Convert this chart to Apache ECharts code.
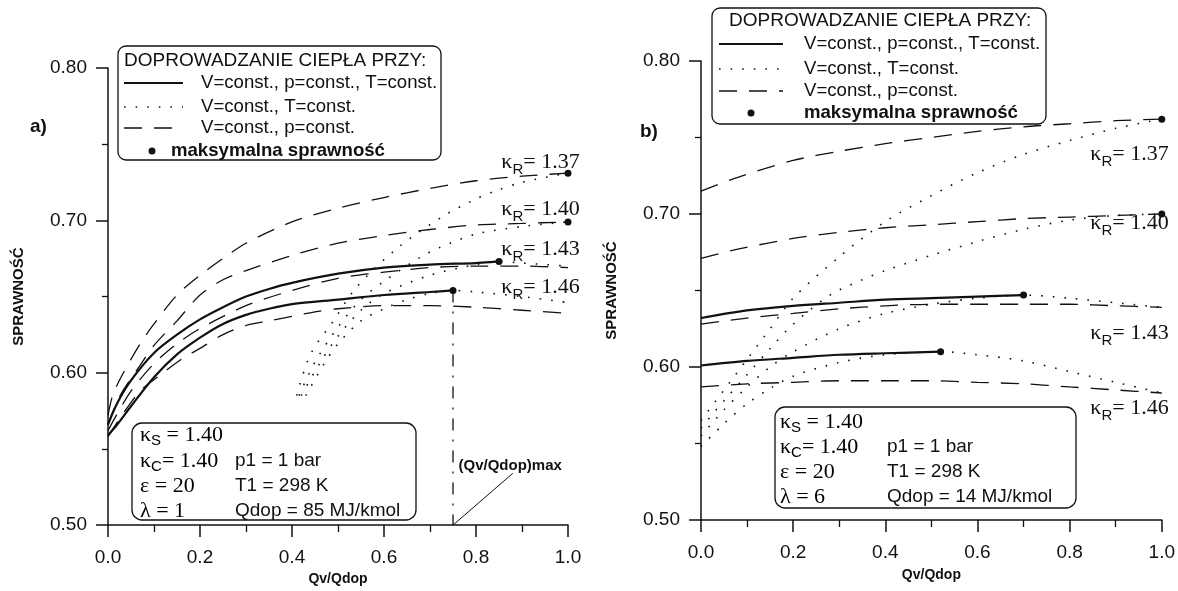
<!DOCTYPE html>
<html><head><meta charset="utf-8">
<script src="https://cdn.jsdelivr.net/npm/echarts@6/dist/echarts.min.js"></script>
<style>html,body{margin:0;padding:0;background:#fff}#c{width:1178px;height:591px}</style>
</head><body><div id="c"></div>
<script>
// ---------- tick labels ----------
const xTickLabels = ['0.0','0.2','0.4','0.6','0.8','1.0'];
const yTickLabels = ['0.50','0.60','0.70','0.80'];
const kappaR = ['1.37','1.40','1.43','1.46'];

// ---------- panel a (lambda = 1) ----------
const aDashed137 = [[0,0.572],[0.01,0.585],[0.03,0.598],[0.07,0.619],[0.1,0.632],[0.15,0.651],[0.2,0.664],[0.25,0.675],[0.3,0.685],[0.4,0.699],[0.5,0.708],[0.6,0.715],[0.7,0.721],[0.8,0.726],[0.9,0.729],[1.0,0.731]];
const aDashed140 = [[0,0.566],[0.01,0.574],[0.03,0.587],[0.07,0.605],[0.1,0.618],[0.15,0.634],[0.2,0.651],[0.25,0.661],[0.3,0.667],[0.4,0.677],[0.5,0.685],[0.6,0.690],[0.7,0.694],[0.8,0.697],[0.9,0.698],[1.0,0.699]];
const aDashed143 = [[0,0.562],[0.02,0.573],[0.05,0.588],[0.1,0.606],[0.15,0.619],[0.2,0.629],[0.3,0.644],[0.4,0.654],[0.5,0.662],[0.6,0.666],[0.7,0.669],[0.8,0.670],[0.9,0.670],[1.0,0.669]];
const aDashed146 = [[0,0.558],[0.03,0.572],[0.07,0.588],[0.12,0.600],[0.16,0.609],[0.2,0.616],[0.25,0.625],[0.3,0.631],[0.35,0.634],[0.4,0.637],[0.45,0.640],[0.5,0.642],[0.6,0.644],[0.7,0.644],[0.8,0.643],[0.9,0.641],[1.0,0.639]];
const aSolid143 = [[0,0.566],[0.02,0.580],[0.05,0.595],[0.1,0.613],[0.15,0.625],[0.2,0.635],[0.25,0.643],[0.3,0.650],[0.35,0.655],[0.4,0.659],[0.5,0.665],[0.6,0.669],[0.7,0.671],[0.8,0.672],[0.85,0.673]];
const aSolid146 = [[0,0.559],[0.02,0.566],[0.05,0.578],[0.1,0.597],[0.15,0.612],[0.2,0.623],[0.25,0.632],[0.3,0.638],[0.35,0.642],[0.4,0.645],[0.5,0.648],[0.6,0.651],[0.7,0.653],[0.75,0.654]];
const aDotted137 = [[0.41,0.585],[0.44,0.612],[0.49,0.634],[0.54,0.656],[0.63,0.682],[0.73,0.703],[0.8,0.714],[0.84,0.719],[0.9,0.725],[1.0,0.731]];
const aDotted140 = [[0.415,0.585],[0.45,0.607],[0.5,0.630],[0.55,0.648],[0.6,0.660],[0.68,0.676],[0.72,0.682],[0.8,0.691],[0.9,0.696],[1.0,0.699]];
const aDotted143 = [[0.42,0.585],[0.46,0.606],[0.5,0.624],[0.55,0.641],[0.6,0.652],[0.7,0.664],[0.8,0.671],[0.85,0.673],[0.9,0.672],[1.0,0.670]];
const aDotted146 = [[0.43,0.585],[0.47,0.606],[0.5,0.619],[0.55,0.634],[0.6,0.642],[0.65,0.648],[0.7,0.652],[0.75,0.654],[0.8,0.653],[0.9,0.650],[1.0,0.646]];
const aMax = [[1.0,0.731],[1.0,0.699],[0.85,0.673],[0.75,0.654]];
const aQvMaxLine = [[0.75,0.654],[0.75,0.5]];
const aLeader = [[0.75,0.5],[0.88,0.534]];

// ---------- panel b (lambda = 6) ----------
const bDashed137 = [[0,0.715],[0.08,0.724],[0.2,0.735],[0.3,0.741],[0.4,0.746],[0.5,0.750],[0.6,0.754],[0.7,0.757],[0.8,0.759],[0.9,0.761],[1.0,0.762]];
const bDashed140 = [[0,0.671],[0.08,0.677],[0.2,0.684],[0.3,0.688],[0.4,0.691],[0.5,0.693],[0.6,0.695],[0.7,0.697],[0.8,0.698],[0.9,0.699],[1.0,0.700]];
const bDashed143 = [[0,0.628],[0.1,0.632],[0.2,0.635],[0.3,0.638],[0.4,0.640],[0.5,0.641],[0.6,0.641],[0.7,0.641],[0.8,0.641],[0.9,0.640],[1.0,0.639]];
const bDashed146 = [[0,0.587],[0.1,0.589],[0.2,0.590],[0.3,0.591],[0.4,0.591],[0.5,0.591],[0.6,0.590],[0.7,0.589],[0.8,0.587],[0.9,0.585],[1.0,0.583]];
const bSolid143 = [[0,0.632],[0.1,0.637],[0.2,0.640],[0.3,0.642],[0.4,0.644],[0.5,0.645],[0.6,0.646],[0.7,0.647]];
const bSolid146 = [[0,0.601],[0.1,0.604],[0.2,0.606],[0.3,0.608],[0.4,0.609],[0.52,0.610]];
const bDotted137 = [[0,0.565],[0.05,0.585],[0.1,0.605],[0.15,0.625],[0.2,0.645],[0.3,0.672],[0.4,0.695],[0.5,0.712],[0.6,0.727],[0.7,0.739],[0.8,0.748],[0.9,0.756],[1.0,0.762]];
const bDotted140 = [[0,0.560],[0.05,0.578],[0.1,0.595],[0.15,0.612],[0.2,0.628],[0.28,0.647],[0.35,0.657],[0.4,0.663],[0.5,0.673],[0.6,0.682],[0.7,0.690],[0.8,0.696],[0.9,0.699],[1.0,0.700]];
const bDotted143 = [[0,0.555],[0.05,0.572],[0.1,0.587],[0.15,0.600],[0.2,0.610],[0.3,0.625],[0.4,0.635],[0.5,0.641],[0.6,0.645],[0.7,0.647],[0.8,0.645],[0.9,0.642],[1.0,0.639]];
const bDotted146 = [[0,0.548],[0.05,0.563],[0.1,0.576],[0.15,0.586],[0.2,0.594],[0.3,0.603],[0.4,0.608],[0.52,0.610],[0.6,0.608],[0.7,0.604],[0.8,0.597],[0.9,0.590],[1.0,0.583]];
const bMax = [[1.0,0.762],[1.0,0.700],[0.70,0.647],[0.52,0.610]];

// annotation anchors (data coordinates)
const aLabelAnchor = [[0.855,0.738],[0.855,0.707],[0.855,0.681],[0.855,0.656]];
const bLabelAnchor = [[0.845,0.739],[0.845,0.694],[0.845,0.622],[0.845,0.573]];
const aQvMaxTextAnchor = [[0.762,0.539]];

// ---------- styles ----------
const INK = '#111';
const DASH = [18, 12];
const DOT = [1.6, 10];
const SANS = '"Liberation Sans", Arial, sans-serif';
const SERIF = '"Liberation Serif", "Times New Roman", serif';

function curve(data, g, type, width) {
  return {type:'line', xAxisIndex:g, yAxisIndex:g, data, symbol:'none', smooth:0.3,
    lineStyle:{color:INK, width, type}, silent:true, animation:false, z:2};
}
function dots(data, g) {
  return {type:'scatter', xAxisIndex:g, yAxisIndex:g, data, symbol:'circle', symbolSize:7,
    itemStyle:{color:INK, opacity:1}, silent:true, animation:false, z:5};
}
const kRich = {
  k:{fontFamily:SERIF, fontSize:22, color:INK, lineHeight:30, verticalAlign:'middle'},
  r:{fontFamily:SANS, fontSize:15, color:INK, lineHeight:15, verticalAlign:'bottom'}
};
function kLabels(anchors, g) {
  return {type:'scatter', xAxisIndex:g, yAxisIndex:g, symbolSize:0, silent:true, animation:false,
    itemStyle:{color:INK, opacity:1},
    data: anchors.map((p,i)=>[p[0],p[1],kappaR[i]]),
    label:{show:true, position:'right', distance:0, color:INK, opacity:1,
      formatter:p=>'{k|κ}{r|R}{k|= '+p.value[2]+'}', rich:kRich}};
}

function xAxis(g) {
  return {gridIndex:g, type:'value', min:0, max:1, interval:0.2,
    name:'Qv/Qdop', nameLocation:'middle', nameGap: g===0?46:48,
    nameTextStyle:{fontFamily:SANS, fontWeight:'bold', fontSize:14, color:INK},
    axisLine:{lineStyle:{color:INK, width:1.5}},
    axisTick:{length:12, lineStyle:{color:INK, width:1.5}},
    minorTick:{show:true, splitNumber:2, length:7, lineStyle:{color:INK, width:1.3}},
    splitLine:{show:false},
    axisLabel:{margin:23, fontFamily:SANS, fontSize:19, color:INK,
      formatter:v=>xTickLabels[Math.round(v/0.2)]}};
}
function yAxis(g) {
  return {gridIndex:g, type:'value', min:0.5, max:0.8, interval:0.1,
    name:'SPRAWNOŚĆ', nameLocation:'middle', nameGap:82, nameRotate:90,
    nameTextStyle:{fontFamily:SANS, fontWeight:'bold', fontSize:15, color:INK},
    axisLine:{show:true, lineStyle:{color:INK, width:1.5}},
    axisTick:{show:true, length:12, lineStyle:{color:INK, width:1.5}},
    minorTick:{show:true, splitNumber:2, length:6, lineStyle:{color:INK, width:1.3}},
    splitLine:{show:false},
    axisLabel:{margin:21, fontFamily:SANS, fontSize:19, color:INK,
      formatter:v=>yTickLabels[Math.round((v-0.5)/0.1)]}};
}

// ---------- legend & parameter boxes (graphic) ----------
const legendTitle = 'DOPROWADZANIE CIEPŁA PRZY:';
const legendRows = ['V=const., p=const., T=const.','V=const., T=const.','V=const., p=const.','maksymalna sprawność'];
function legendBox(L) {
  const els = [];
  els.push({type:'rect', shape:{x:L.x, y:L.y, width:L.w, height:L.h, r:8},
    style:{fill:'#fff', stroke:INK, lineWidth:1.3}, z:10});
  els.push({type:'text', x:L.titleX, y:L.titleY, z:11,
    style:{text:legendTitle, font:'19px '+SANS, fill:INK, verticalAlign:'middle', textVerticalAlign:'middle'}});
  const types = ['solid', DOT, DASH];
  const widths = [2.2, 1.6, 1.3];
  for (let i=0;i<3;i++) {
    els.push({type:'line', z:11, shape:{x1:L.lx0, y1:L.rows[i], x2:L.lx1, y2:L.rows[i]},
      style:{stroke:INK, lineWidth:widths[i], lineDash: i===0?null:types[i]}});
    els.push({type:'text', x:L.tx, y:L.rows[i], z:11,
      style:{text:legendRows[i], font:'18.6px '+SANS, fill:INK, verticalAlign:'middle', textVerticalAlign:'middle'}});
  }
  els.push({type:'circle', z:11, shape:{cx:L.dotX, cy:L.rows[3], r:3.5}, style:{fill:INK}});
  els.push({type:'text', x:L.dotTx, y:L.rows[3], z:11,
    style:{text:legendRows[3], font:'bold 18.6px '+SANS, fill:INK, verticalAlign:'middle', textVerticalAlign:'middle'}});
  return els;
}
const pRich = {
  k:{fontFamily:SERIF, fontSize:22, color:INK, lineHeight:26, verticalAlign:'middle'},
  s:{fontFamily:SANS, fontSize:15, color:INK, lineHeight:15, verticalAlign:'bottom'}
};
function paramBox(P) {
  const els = [];
  els.push({type:'rect', shape:{x:P.x, y:P.y, width:P.w, height:P.h, r:10},
    style:{fill:'#fff', stroke:INK, lineWidth:1.3}, z:10});
  const col1 = ['{k|κ}{s|S}{k| = 1.40}','{k|κ}{s|C}{k|= 1.40}','{k|ε = 20}','{k|λ = '+P.lambda+'}'];
  const col2 = [null,'p1 = 1 bar','T1 = 298 K','Qdop = '+P.qdop+' MJ/kmol'];
  for (let i=0;i<4;i++) {
    els.push({type:'text', x:P.c1, y:P.rows[i], z:11,
      style:{text:col1[i], rich:pRich, verticalAlign:'middle', textVerticalAlign:'middle'}});
    if (col2[i]) els.push({type:'text', x:P.c2, y:P.rows[i], z:11,
      style:{text:col2[i], font:'19px '+SANS, fill:INK, verticalAlign:'middle', textVerticalAlign:'middle'}});
  }
  return els;
}

const graphics = [].concat(
  legendBox({x:118,y:46,w:323,h:114,titleX:124,titleY:61,lx0:124,lx1:183,tx:201,rows:[83,107,128,151],dotX:152,dotTx:171}),
  legendBox({x:712,y:8,w:334,h:116,titleX:729,titleY:21,lx0:719,lx1:783,tx:804,rows:[44,69,91,113],dotX:751,dotTx:804}),
  paramBox({x:132,y:423,w:284,h:97,c1:140,c2:235,rows:[435,461,486,511],lambda:'1',qdop:'85'}),
  paramBox({x:775,y:407,w:301,h:101,c1:780,c2:887,rows:[422,447,472,497],lambda:'6',qdop:'14'}),
  [{type:'text', x:30, y:127, style:{text:'a)', font:'bold 19px '+SANS, fill:INK, verticalAlign:'middle', textVerticalAlign:'middle'}},
   {type:'text', x:640, y:132, style:{text:'b)', font:'bold 19px '+SANS, fill:INK, verticalAlign:'middle', textVerticalAlign:'middle'}}]
);

const series = [
  curve(aDashed137,0,DASH,1.3), curve(aDashed140,0,DASH,1.3), curve(aDashed143,0,DASH,1.3), curve(aDashed146,0,DASH,1.3),
  curve(aDotted137,0,DOT,1.6), curve(aDotted140,0,DOT,1.6), curve(aDotted143,0,DOT,1.6), curve(aDotted146,0,DOT,1.6),
  curve(aSolid143,0,'solid',2.2), curve(aSolid146,0,'solid',2.2),
  {type:'line', xAxisIndex:0, yAxisIndex:0, data:aQvMaxLine, symbol:'none', silent:true, animation:false,
    lineStyle:{color:INK, width:1.3, type:[12,9,2,9]}},
  {type:'line', xAxisIndex:0, yAxisIndex:0, data:aLeader, symbol:'none', silent:true, animation:false,
    lineStyle:{color:INK, width:1}},
  {type:'scatter', xAxisIndex:0, yAxisIndex:0, symbolSize:0, silent:true, animation:false, data:aQvMaxTextAnchor,
    itemStyle:{color:INK, opacity:1},
    label:{show:true, position:'right', distance:0, formatter:'(Qv/Qdop)max', opacity:1,
      fontFamily:SANS, fontWeight:'bold', fontSize:15, color:INK}},
  dots(aMax,0), kLabels(aLabelAnchor,0),
  curve(bDashed137,1,DASH,1.3), curve(bDashed140,1,DASH,1.3), curve(bDashed143,1,DASH,1.3), curve(bDashed146,1,DASH,1.3),
  curve(bDotted137,1,DOT,1.6), curve(bDotted140,1,DOT,1.6), curve(bDotted143,1,DOT,1.6), curve(bDotted146,1,DOT,1.6),
  curve(bSolid143,1,'solid',2.2), curve(bSolid146,1,'solid',2.2),
  dots(bMax,1), kLabels(bLabelAnchor,1)
];

const chart = echarts.init(document.getElementById('c'), null, {renderer:'canvas'});
chart.setOption({
  backgroundColor:'#fff', animation:false,
  grid:[{left:108, top:68, width:460, height:462},{left:701, top:61, width:461, height:459}],
  xAxis:[xAxis(0), xAxis(1)],
  yAxis:[yAxis(0), yAxis(1)],
  series, graphic: graphics
});
</script></body></html>
